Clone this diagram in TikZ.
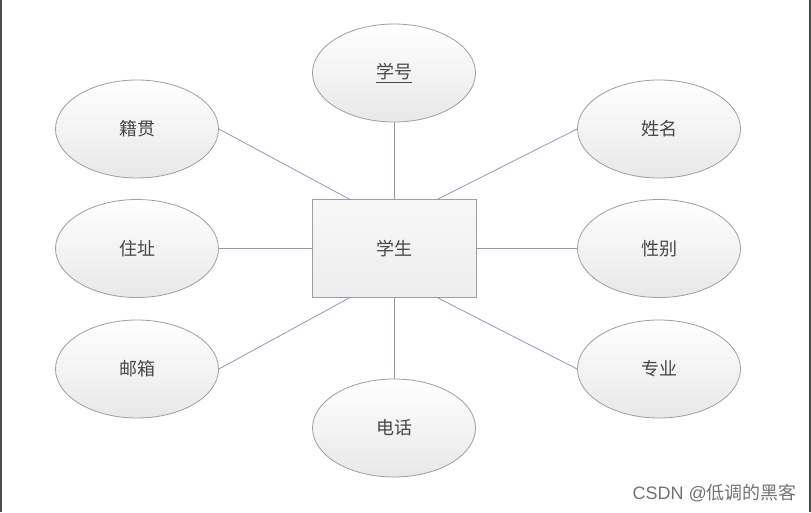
\documentclass[tikz,border=0pt]{standalone}
\usepackage{fontspec}
\newfontfamily\cjk{Noto Sans CJK SC}
\setsansfont{Liberation Sans}
\usetikzlibrary{shapes.geometric}
\begin{document}
\begin{tikzpicture}[x=1pt,y=-1pt,
  attr/.style={ellipse, draw=black!38, line width=0.8pt, minimum width=163pt, minimum height=98pt,
    inner sep=0pt, top color=white, bottom color=black!9, font=\cjk\fontsize{18}{18}\selectfont, text=black!72},
  ent/.style={rectangle, draw=black!38, line width=0.8pt, minimum width=164pt, minimum height=98pt,
    inner sep=0pt, top color=black!3, bottom color=black!7, font=\cjk\fontsize{18}{18}\selectfont, text=black!72},
  link/.style={line width=0.8pt, draw={rgb,255:red,140;green,156;blue,180}}]
\useasboundingbox (0,0) rectangle (811,512);
\fill[white] (0,0) rectangle (811,512);
\draw[black!70, line width=1.5pt] (0.75,0) -- (0.75,512);
\draw[black!70, line width=1.5pt] (810.2,0) -- (810.2,512);

\node[ent] (st) at (394,248.5) {学生};
\node[attr] (xh) at (394,73) {\underline{学号}};
\node[attr] (jg) at (137,129) {籍贯};
\node[attr] (xm) at (659,129) {姓名};
\node[attr] (zz) at (137,248.5) {住址};
\node[attr] (xb) at (659,248.5) {性别};
\node[attr] (yx) at (137,369) {邮箱};
\node[attr] (zy) at (659,369) {专业};
\node[attr] (dh) at (394,428) {电话};

\coordinate (b1) at (350,199.5);
\coordinate (b2) at (437,199.5);
\coordinate (b3) at (350,297.5);
\coordinate (b4) at (437,297.5);

\draw[link] (xh.south) -- (st.north);
\draw[link] (dh.north) -- (st.south);
\draw[link] (zz.east) -- (st.west);
\draw[link] (xb.west) -- (st.east);
\draw[link] (jg.east) -- (b1);
\draw[link] (xm.west) -- (b2);
\draw[link] (yx.east) -- (b3);
\draw[link] (zy.west) -- (b4);

\node[anchor=east, inner sep=0pt, text=black!55, font=\fontsize{18}{18}\selectfont] (wm) at (797,493)
  {\sffamily CSDN @{\cjk 低调的黑客}};
\end{tikzpicture}
\end{document}
